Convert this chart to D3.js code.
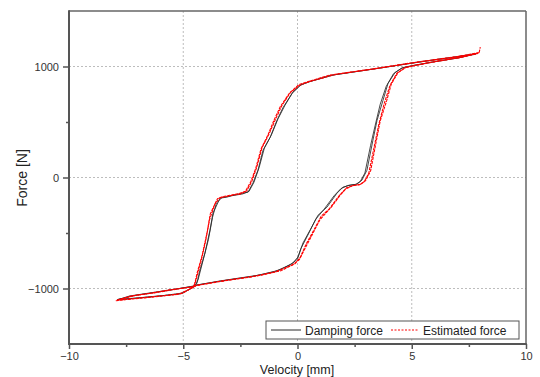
<!DOCTYPE html>
<html><head><meta charset="utf-8">
<script src="https://cdn.jsdelivr.net/npm/d3@7"></script>
<style>body{margin:0;background:#fff}svg{display:block}text{font-family:"Liberation Sans",Arial,sans-serif}</style>
</head><body><svg id="c" width="540" height="377"></svg>
<script>
const xTicks = [-10, -5, 0, 5, 10];
const yTicks = [-1000, 0, 1000];
const xMinor = [-7.5, -2.5, 2.5, 7.5];
const yMinor = [-500, 500];
const seriesNames = ["Damping force", "Estimated force"];

const damping1 = [[7.85,1118],[6.9,1085],[6.24,1068],[4.92,1027],[3.17,973],[1.42,919],[0.42,856],[0.11,829],[-0.24,757],[-0.63,631],[-0.9,514],[-1.2,361],[-1.51,245],[-1.73,66],[-1.95,-51],[-2.17,-132],[-2.39,-141],[-2.82,-159],[-3.09,-177],[-3.39,-186],[-3.7,-321],[-3.83,-474],[-4.05,-681],[-4.27,-834],[-4.4,-951],[-4.49,-978],[-5.58,-1013],[-6.46,-1040],[-7.33,-1067],[-7.9,-1103],[-6.46,-1076],[-5.14,-1049],[-4.7,-1004],[-4.4,-969],[-3.39,-932],[-2.52,-905],[-1.64,-878],[-0.77,-833],[-0.2,-770],[0.02,-716],[0.24,-590],[0.55,-474],[0.9,-339],[1.29,-267],[1.73,-141],[1.99,-87],[2.3,-69],[2.6,-60],[2.82,-24],[3.04,66],[3.3,335],[3.48,514],[3.74,694],[3.96,847],[4.27,946],[4.62,991],[5.05,1009],[5.8,1036],[7.11,1081],[7.85,1118]];
const damping2 = [[7.8,1112],[6.5,1074],[5.2,1038],[3.5,982],[1.6,925],[0.5,862],[0.15,835],[-0.2,770],[-0.55,650],[-0.85,530],[-1.15,380],[-1.45,265],[-1.68,90],[-1.9,-40],[-2.12,-125],[-2.4,-148],[-2.9,-165],[-3.3,-180],[-3.55,-230],[-3.72,-360],[-3.9,-560],[-4.15,-760],[-4.35,-920],[-4.48,-975],[-5.3,-1005],[-6.2,-1035],[-7.1,-1062],[-7.85,-1098],[-7.0,-1085],[-5.8,-1062],[-5.0,-1040],[-4.62,-995],[-4.4,-968],[-3.0,-922],[-2.0,-892],[-1.0,-848],[-0.3,-785],[0.0,-735],[0.15,-640],[0.45,-520],[0.8,-375],[1.15,-290],[1.6,-165],[1.9,-100],[2.2,-72],[2.55,-62],[2.75,-35],[2.95,40],[3.2,290],[3.4,470],[3.62,660],[3.88,820],[4.2,935],[4.55,985],[5.0,1005],[5.9,1040],[7.0,1076],[7.8,1112]];
const estimated1 = [[7.95,1125],[7.0,1090],[6.0,1062],[4.9,1030],[3.2,975],[1.4,922],[0.4,860],[0.05,835],[-0.35,760],[-0.75,640],[-1.02,520],[-1.3,380],[-1.6,255],[-1.83,80],[-2.05,-40],[-2.28,-125],[-2.55,-145],[-2.95,-160],[-3.25,-172],[-3.5,-190],[-3.82,-330],[-3.95,-490],[-4.17,-700],[-4.38,-850],[-4.5,-960],[-4.55,-985],[-5.6,-1012],[-6.5,-1045],[-7.35,-1070],[-7.95,-1110],[-7.4,-1098],[-6.5,-1080],[-5.2,-1052],[-4.75,-1010],[-4.45,-975],[-3.4,-935],[-2.5,-908],[-1.6,-880],[-0.7,-838],[-0.1,-775],[0.12,-720],[0.38,-600],[0.7,-480],[1.05,-345],[1.45,-275],[1.9,-150],[2.15,-92],[2.45,-72],[2.75,-62],[2.98,-28],[3.2,60],[3.45,330],[3.62,510],[3.9,690],[4.1,840],[4.4,945],[4.75,992],[5.2,1012],[6.0,1042],[7.2,1085],[7.95,1125],[8.0,1175]];
const estimated2 = [[7.9,1118],[6.6,1076],[5.3,1040],[3.6,986],[1.7,930],[0.55,866],[0.1,832],[-0.3,768],[-0.68,650],[-0.95,530],[-1.25,390],[-1.55,270],[-1.78,95],[-2.0,-35],[-2.22,-120],[-2.5,-148],[-3.0,-166],[-3.4,-182],[-3.62,-240],[-3.85,-380],[-4.03,-580],[-4.25,-780],[-4.45,-930],[-4.55,-982],[-5.35,-1008],[-6.3,-1040],[-7.15,-1064],[-7.9,-1105],[-7.1,-1090],[-5.9,-1066],[-5.05,-1045],[-4.68,-1000],[-4.45,-972],[-3.0,-925],[-2.0,-895],[-1.0,-852],[-0.25,-790],[0.08,-740],[0.3,-650],[0.62,-525],[0.98,-380],[1.35,-295],[1.8,-170],[2.1,-105],[2.4,-75],[2.72,-64],[2.92,-38],[3.12,40],[3.38,300],[3.56,480],[3.8,670],[4.05,830],[4.35,940],[4.7,988],[5.1,1008],[6.0,1045],[7.1,1080],[7.9,1118]];

const svg = d3.select("#c");
const L = 69, R = 526, T = 11, B = 344;
const x = d3.scaleLinear().domain([-10, 10]).range([L, R]);
const y = d3.scaleLinear().domain([-1500, 1500]).range([B, T]);

// grid
const g = svg.append("g");
g.selectAll(".gx").data(xTicks.filter(d => d > -10 && d < 10)).join("line")
  .attr("x1", d => x(d)).attr("x2", d => x(d)).attr("y1", T).attr("y2", B)
  .attr("stroke", "#bdbdbd").attr("stroke-width", 1).attr("stroke-dasharray", "2,2");
g.selectAll(".gy").data(yTicks).join("line")
  .attr("y1", d => y(d)).attr("y2", d => y(d)).attr("x1", L).attr("x2", R)
  .attr("stroke", "#bdbdbd").attr("stroke-width", 1).attr("stroke-dasharray", "2,2");

// data lines
const line = d3.line().x(d => x(d[0])).y(d => y(d[1]));
[damping1, damping2].forEach(s => svg.append("path").attr("d", line(s))
  .attr("fill", "none").attr("stroke", "#2a2a2a").attr("stroke-opacity", 0.85).attr("stroke-width", 1));
[estimated1, estimated2].forEach(s => svg.append("path").attr("d", line(s))
  .attr("fill", "none").attr("stroke", "#ff0000").attr("stroke-width", 1.1).attr("stroke-dasharray", "3,1"));

// axes
const ax = d3.axisBottom(x).tickValues(xTicks).tickSizeInner(5).tickSizeOuter(0).tickPadding(3).tickFormat(d3.format("d"));
const axm = d3.axisBottom(x).tickValues(xMinor).tickSizeInner(3).tickSizeOuter(0).tickFormat("");
const ay = d3.axisLeft(y).tickValues(yTicks).tickSizeInner(6).tickSizeOuter(0).tickPadding(4).tickFormat(d3.format("d"));
const aym = d3.axisLeft(y).tickValues(yMinor).tickSizeInner(3).tickSizeOuter(0).tickFormat("");
function style(sel) {
  sel.select(".domain").remove();
  sel.selectAll("line").attr("stroke", "#555").attr("stroke-width", 1.5);
  sel.selectAll("text").attr("fill", "#333").style("font-size", "11px").style("font-family", "Liberation Sans, Arial, sans-serif");
}
svg.append("g").attr("transform", `translate(0,${B})`).call(ax).call(style);
svg.append("g").attr("transform", `translate(0,${B})`).call(axm).call(style);
svg.append("g").attr("transform", `translate(${L},0)`).call(ay).call(style);
svg.append("g").attr("transform", `translate(${L},0)`).call(aym).call(style);

// frame
svg.append("line").attr("x1", L).attr("x2", R).attr("y1", T).attr("y2", T).attr("stroke", "#666").attr("stroke-width", 1.5);
svg.append("line").attr("x1", R).attr("x2", R).attr("y1", T).attr("y2", B).attr("stroke", "#666").attr("stroke-width", 1.5);
svg.append("line").attr("x1", L).attr("x2", L).attr("y1", T - 0.75).attr("y2", B + 1).attr("stroke", "#555").attr("stroke-width", 2);
svg.append("line").attr("x1", L - 1).attr("x2", R + 0.75).attr("y1", B).attr("y2", B).attr("stroke", "#555").attr("stroke-width", 2);

// axis titles
svg.append("text").attr("x", 297).attr("y", 374.3).attr("text-anchor", "middle")
  .style("font-size", "12.5px").attr("fill", "#222").text("Velocity [mm]");
svg.append("text").attr("transform", "translate(27,178) rotate(-90)").attr("text-anchor", "middle")
  .style("font-size", "14px").attr("fill", "#222").text("Force [N]");

// legend
const lg = svg.append("g");
lg.append("rect").attr("x", 266).attr("y", 321).attr("width", 253).attr("height", 18)
  .attr("fill", "#fff").attr("stroke", "#555").attr("stroke-width", 1);
lg.append("line").attr("x1", 271).attr("x2", 301).attr("y1", 330).attr("y2", 330).attr("stroke", "#2a2a2a").attr("stroke-width", 1);
lg.append("text").attr("x", 305).attr("y", 334.5).style("font-size", "12px").attr("fill", "#222").text(seriesNames[0]);
lg.append("line").attr("x1", 391).attr("x2", 418).attr("y1", 330).attr("y2", 330).attr("stroke", "#ff0000").attr("stroke-width", 1).attr("stroke-dasharray", "2,1.5");
lg.append("text").attr("x", 423).attr("y", 334.5).style("font-size", "12px").attr("fill", "#222").text(seriesNames[1]);
</script></body></html>
